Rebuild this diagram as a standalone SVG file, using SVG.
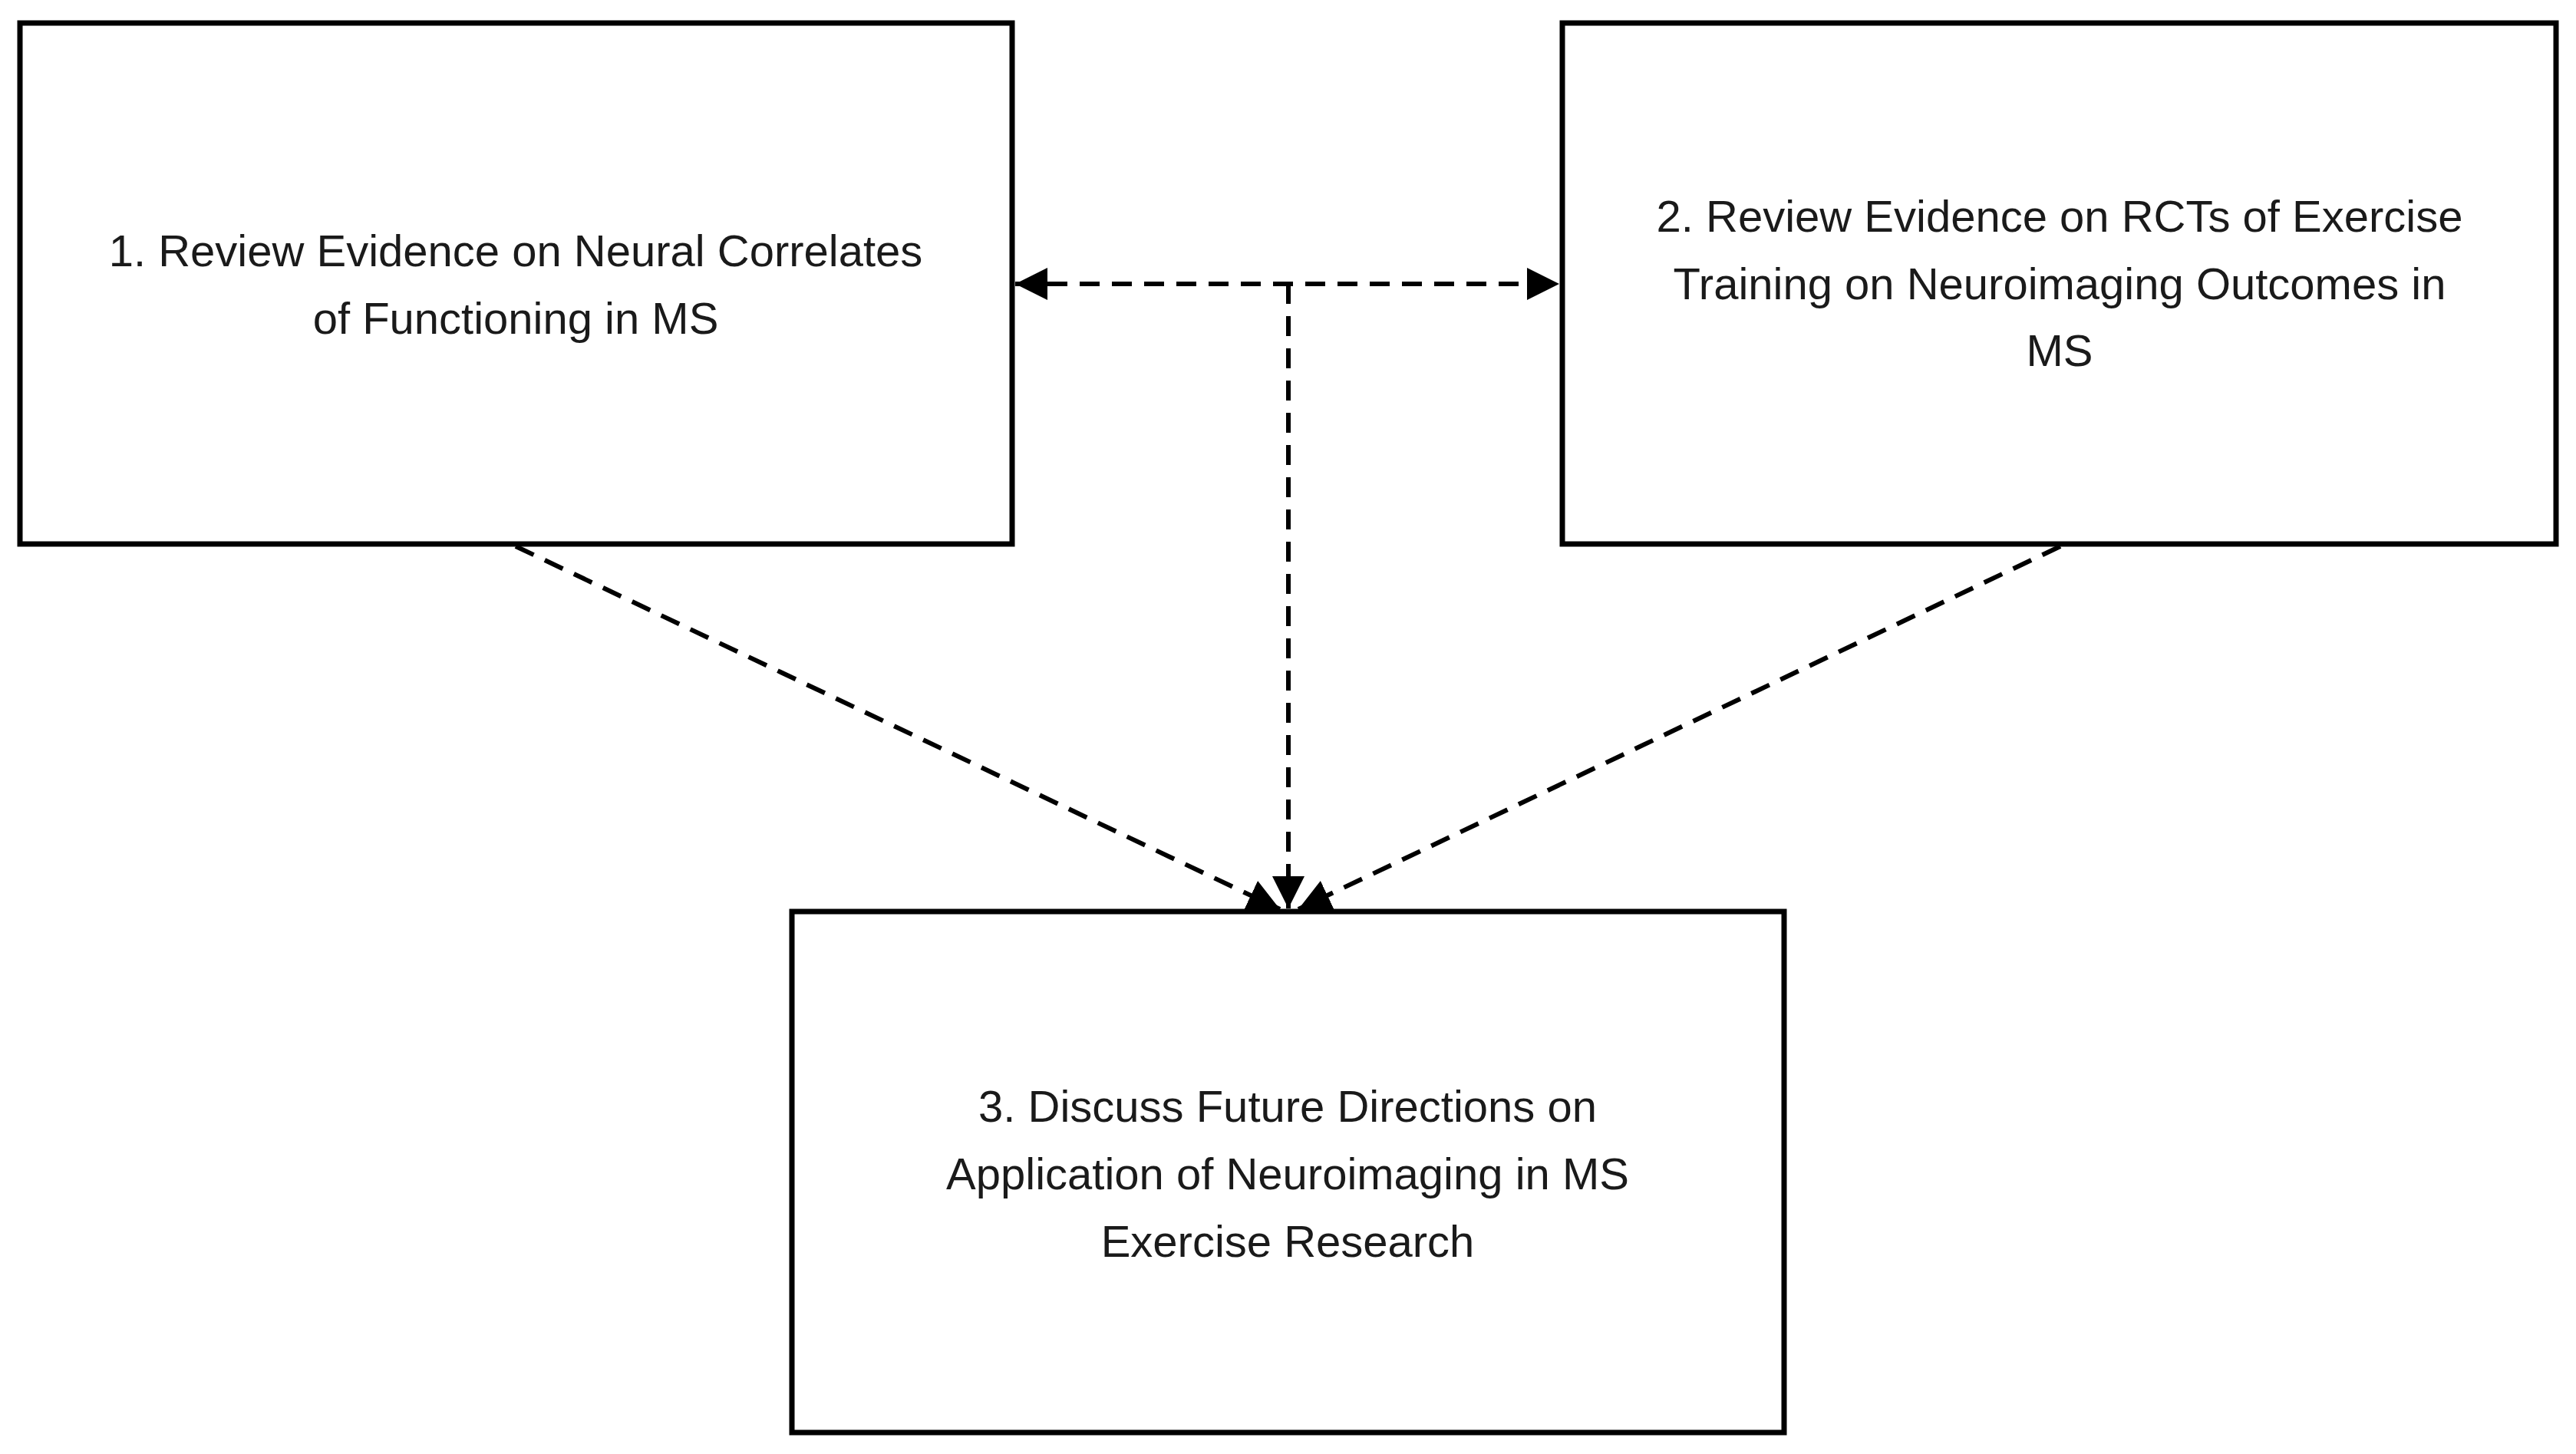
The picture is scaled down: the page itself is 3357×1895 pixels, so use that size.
<svg xmlns="http://www.w3.org/2000/svg" width="3357" height="1895" viewBox="0 0 3357 1895">
<style>
.box{fill:#fff;stroke:#000;stroke-width:7}
.t{font-family:"Liberation Sans",Arial,sans-serif;font-size:58px;fill:#1a1a1a;text-anchor:middle}
.c{stroke:#000;stroke-width:6;stroke-dasharray:26 16;fill:none}
</style>
<defs>
<marker id="a" viewBox="0 0 10 10" refX="10" refY="5" markerWidth="7" markerHeight="7" orient="auto-start-reverse" markerUnits="strokeWidth"><path d="M0,0L10,5L0,10z" fill="#000"/></marker>
</defs>
<rect width="3357" height="1895" fill="#fff"/>
<g id="n1"><rect class="box" x="26" y="30" width="1293" height="679"/>
<text class="t" x="672" y="347">1. Review Evidence on Neural Correlates</text>
<text class="t" x="672" y="435">of Functioning in MS</text></g>
<g id="n2"><rect class="box" x="2036" y="30" width="1295" height="679"/>
<text class="t" x="2684" y="302">2. Review Evidence on RCTs of Exercise</text>
<text class="t" x="2684" y="390">Training on Neuroimaging Outcomes in</text>
<text class="t" x="2684" y="477">MS</text></g>
<g id="n3"><rect class="box" x="1032" y="1188" width="1293" height="679"/>
<text class="t" x="1678" y="1462">3. Discuss Future Directions on</text>
<text class="t" x="1678" y="1550">Application of Neuroimaging in MS</text>
<text class="t" x="1678" y="1638">Exercise Research</text></g>
<g id="connectors">
<path class="c" d="M1323,370H2032" marker-start="url(#a)" marker-end="url(#a)"/>
<path class="c" d="M1679,370V1184" marker-end="url(#a)"/>
<path class="c" d="M672,712L1668,1185" marker-end="url(#a)"/>
<path class="c" d="M2685,712L1692,1185" marker-end="url(#a)"/>
</g>
</svg>
